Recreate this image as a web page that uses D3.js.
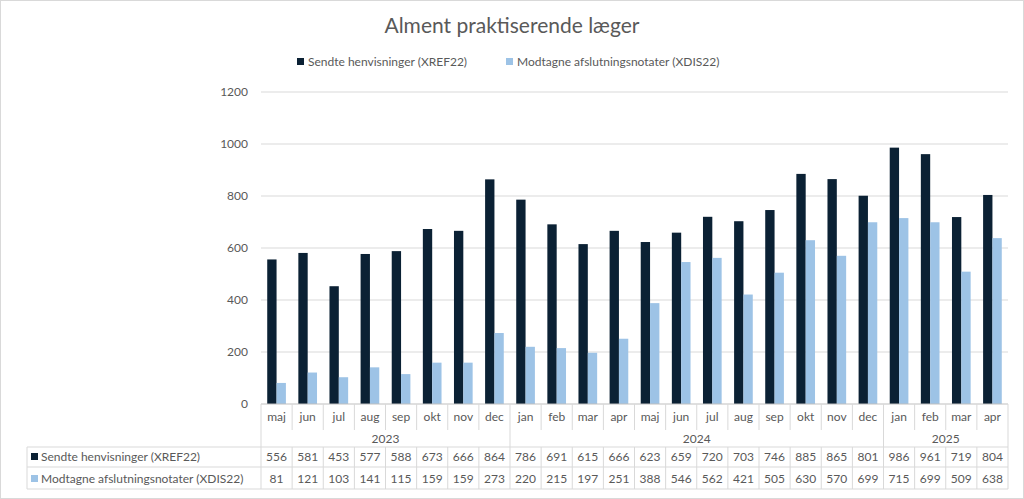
<!DOCTYPE html>
<html><head><meta charset="utf-8">
<script src="https://cdn.jsdelivr.net/npm/d3@7"></script>
<style>body{margin:0;background:#fff}svg{font-family:Lato,"Open Sans",sans-serif}</style>
</head><body><svg id="chart" width="1024" height="499"></svg>
<script>
const months = ["maj","jun","jul","aug","sep","okt","nov","dec","jan","feb","mar","apr","maj","jun","jul","aug","sep","okt","nov","dec","jan","feb","mar","apr"];
const years = [{label:"2023", n:8},{label:"2024", n:12},{label:"2025", n:4}];
const sendte = [556,581,453,577,588,673,666,864,786,691,615,666,623,659,720,703,746,885,865,801,986,961,719,804];
const modtagne = [81,121,103,141,115,159,159,273,220,215,197,251,388,546,562,421,505,630,570,699,715,699,509,638];
const series = [
  {name:"Sendte henvisninger (XREF22)", values:sendte, color:"#0b2134"},
  {name:"Modtagne afslutningsnotater (XDIS22)", values:modtagne, color:"#9dc3e6"}
];
const yTicks = [0,200,400,600,800,1000,1200];

const svg = d3.select("#chart");
const plotL = 261, plotR = 1008, plotT = 92, plotB = 404;
const txt = "#595959", grid = "#d9d9d9";

svg.append("rect").attr("x",0.5).attr("y",0.5).attr("width",1023).attr("height",498)
  .attr("fill","none").attr("stroke","#d9d9d9");

svg.append("text").attr("x",512).attr("y",33).attr("text-anchor","middle")
  .attr("font-size",21).attr("fill",txt).text("Alment praktiserende læger");

// legend
const legX = [297,506];
series.forEach((s,i)=>{
  svg.append("rect").attr("x",legX[i]).attr("y",58).attr("width",7).attr("height",7).attr("fill",s.color);
  svg.append("text").attr("x",legX[i]+11).attr("y",66).attr("font-size",12).attr("fill",txt).text(s.name);
});

const x = d3.scaleBand().domain(d3.range(months.length)).range([plotL,plotR]);
const y = d3.scaleLinear().domain([0,1200]).range([plotB,plotT]);

// grid + y labels
svg.append("g").selectAll("line").data(yTicks.slice(1)).join("line")
  .attr("x1",plotL).attr("x2",plotR).attr("y1",d=>y(d)).attr("y2",d=>y(d)).attr("stroke",grid);
svg.append("g").selectAll("text").data(yTicks).join("text")
  .attr("x",248).attr("y",d=>y(d)+4).attr("text-anchor","end").attr("font-size",12).attr("fill",txt).text(d=>d);

// bars
const bw = x.bandwidth()*0.3, off = x.bandwidth()*0.2;
series.forEach((s,i)=>{
  svg.append("g").selectAll("rect").data(s.values).join("rect")
    .attr("x",(d,j)=>x(j)+off+i*bw).attr("y",d=>y(d)).attr("width",bw).attr("height",d=>plotB-y(d))
    .attr("fill",s.color);
});

// table
const tLeft = 27, rowM = 430, rowY = 447, row1 = 467, row2 = 489;
const tg = svg.append("g").attr("stroke",grid).attr("fill","none");
tg.append("line").attr("x1",plotL).attr("x2",plotR).attr("y1",plotB).attr("y2",plotB).attr("stroke","#bfbfbf");
[rowY,row1,row2].forEach(yy=>tg.append("line").attr("x1",tLeft).attr("x2",plotR).attr("y1",yy).attr("y2",yy));
tg.append("line").attr("x1",tLeft).attr("x2",tLeft).attr("y1",rowY).attr("y2",row2);
tg.append("line").attr("x1",plotR).attr("x2",plotR).attr("y1",plotB).attr("y2",row2);
d3.range(months.length).forEach(j=>{
  tg.append("line").attr("x1",x(j)).attr("x2",x(j)).attr("y1",plotB).attr("y2",rowM);
  tg.append("line").attr("x1",x(j)).attr("x2",x(j)).attr("y1",rowY).attr("y2",row2);
});
let acc = 0;
years.forEach(yr=>{
  tg.append("line").attr("x1",x(acc)).attr("x2",x(acc)).attr("y1",rowM).attr("y2",rowY);
  svg.append("text").attr("x",x(acc)+yr.n*x.bandwidth()/2).attr("y",rowY-4).attr("text-anchor","middle")
    .attr("font-size",12).attr("fill",txt).text(yr.label);
  acc += yr.n;
});
svg.append("g").selectAll("text").data(months).join("text")
  .attr("x",(d,j)=>x(j)+x.bandwidth()/2).attr("y",plotB+17).attr("text-anchor","middle")
  .attr("font-size",12).attr("fill",txt).text(d=>d);
[row1,row2].forEach((ry,i)=>{
  const s = series[i];
  svg.append("rect").attr("x",tLeft+4).attr("y",ry-14).attr("width",7).attr("height",7).attr("fill",s.color);
  svg.append("text").attr("x",tLeft+14).attr("y",ry-6).attr("font-size",12).attr("fill",txt).text(s.name);
  svg.append("g").selectAll("text").data(s.values).join("text")
    .attr("x",(d,j)=>x(j)+x.bandwidth()/2).attr("y",ry-6).attr("text-anchor","middle")
    .attr("font-size",12).attr("fill",txt).text(d=>d);
});
</script></body></html>
